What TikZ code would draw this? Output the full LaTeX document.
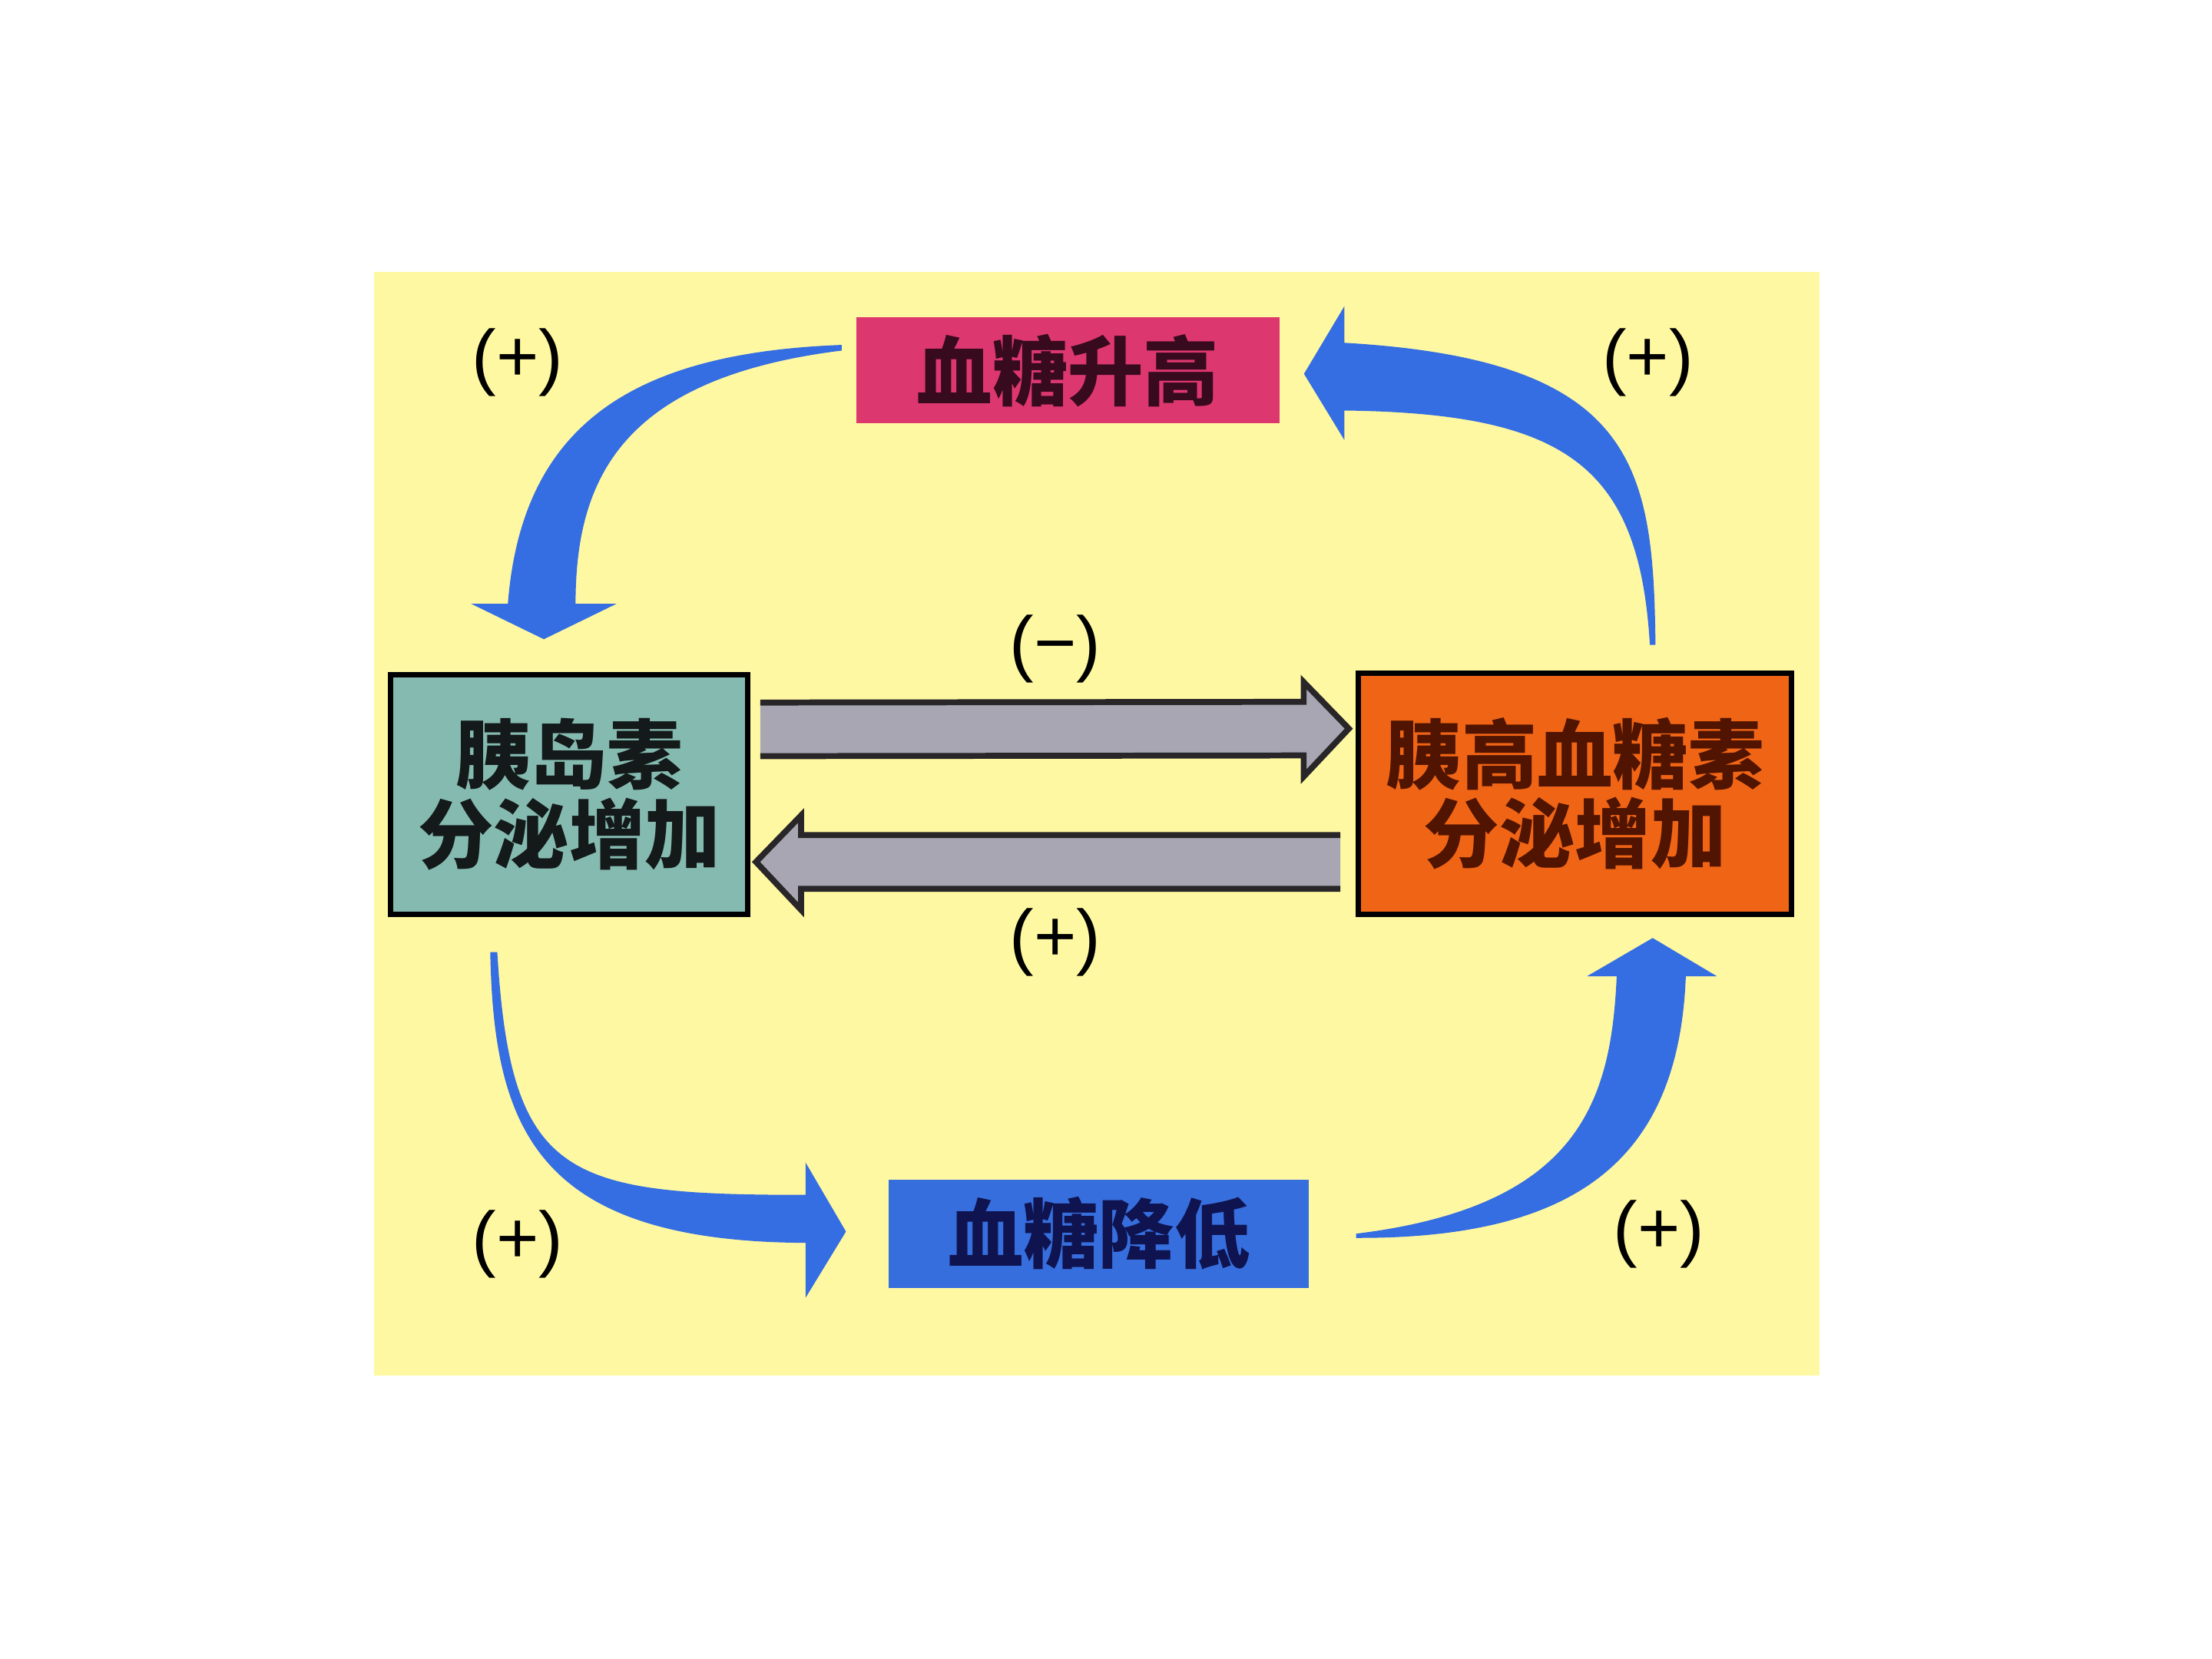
\documentclass[tikz,border=0pt]{standalone}
\usepackage{fontspec}
\setmainfont{Liberation Sans}
\newfontfamily\cjk{Noto Sans CJK SC}
\usetikzlibrary{calc}
\definecolor{bgyellow}{RGB}{255,248,162}
\definecolor{pinkbox}{RGB}{220,55,110}
\definecolor{tealbox}{RGB}{132,186,176}
\definecolor{orangebox}{RGB}{240,100,22}
\definecolor{bluebox}{RGB}{55,110,222}
\definecolor{bluearrow}{RGB}{52,110,226}
\definecolor{grayfill}{RGB}{168,166,178}
\definecolor{grayline}{RGB}{40,38,40}
\begin{document}
\begin{tikzpicture}[x=0.018367cm,y=-0.018367cm,
  box/.style={rectangle,inner sep=0pt,align=center,
    font=\cjk\bfseries\fontsize{28}{29.5}\selectfont},
  sign/.style={font=\fontsize{27}{30}\selectfont,inner sep=0pt},
  curvearrow/.style={fill=bluearrow,draw=none},
  grayarrow/.style={fill=grayfill,draw=none},
  grayedge/.style={draw=grayline,line width=2.2pt,line join=miter}]
\fill[white] (0,0) rectangle (1568,1176);
\useasboundingbox (0,0) rectangle (1568,1176);
\fill[bgyellow] (265,193) rectangle (1290,975);

% boxes
\node[box,fill=pinkbox,text={rgb,255:red,55;green,10;blue,30},minimum width=5.510cm,minimum height=1.378cm] (pink) at (757,262.5) {血糖升高};
\node[box,fill=tealbox,draw=black,line width=2pt,text={rgb,255:red,20;green,25;blue,25},minimum width=4.647cm,minimum height=3.122cm] (teal) at (403.5,563) {胰岛素\\分泌增加};
\node[box,fill=orangebox,draw=black,line width=2pt,text={rgb,255:red,80;green,20;blue,0},minimum width=5.639cm,minimum height=3.141cm] (orange) at (1116.5,562.5) {胰高血糖素\\分泌增加};
\node[box,fill=bluebox,text={rgb,255:red,15;green,20;blue,80},minimum width=5.473cm,minimum height=1.414cm] (blue) at (779,874.5) {血糖降低};

% signs
\node[sign] (s1) at (367,257) {(+)};
\node[sign] (s2) at (1168,257) {(+)};
\node[sign] (s3) at (748,460) {(−)};
\node[sign] (s4) at (748,668) {(+)};
\node[sign] (s5) at (367,882) {(+)};
\node[sign] (s6) at (1176,875) {(+)};

% gray arrow teal -> orange
\coordinate (gA) at ($(teal.east)+(7,-46)$);
\coordinate (gB) at ($(orange.west)+(-5,-46)$);
\fill[grayarrow] ($(gA)+(0,-19)$) -- ($(gB)+(-32,-19)$) -- ($(gB)+(-32,-33)$) -- (gB)
  -- ($(gB)+(-32,34)$) -- ($(gB)+(-32,19)$) -- ($(gA)+(0,19)$) -- cycle;
\draw[grayedge] ($(gA)+(0,-19)$) -- ($(gB)+(-32,-19)$) -- ($(gB)+(-32,-33)$) -- (gB)
  -- ($(gB)+(-32,34)$) -- ($(gB)+(-32,19)$) -- ($(gA)+(0,19)$);

% gray arrow orange -> teal
\coordinate (hA) at ($(orange.west)+(-11,48.5)$);
\coordinate (hB) at ($(teal.east)+(4,48)$);
\fill[grayarrow] ($(hA)+(0,-19)$) -- ($(hB)+(32,-19)$) -- ($(hB)+(32,-33)$) -- (hB)
  -- ($(hB)+(32,34)$) -- ($(hB)+(32,19)$) -- ($(hA)+(0,19)$) -- cycle;
\draw[grayedge] ($(hA)+(0,-19)$) -- ($(hB)+(32,-19)$) -- ($(hB)+(32,-33)$) -- (hB)
  -- ($(hB)+(32,34)$) -- ($(hB)+(32,19)$) -- ($(hA)+(0,19)$);

% curved arrow: pink -> teal (top left)
\coordinate (tlTail) at ($(pink.west)+(-10,-18)$);
\coordinate (tlTip) at ($(teal.north)+(-18,-23)$);
\fill[curvearrow] (tlTail) .. controls (450,250) and (370,300) .. (360,428)
  -- (334,428) -- (tlTip) -- (437,428) -- (408,428)
  .. controls (408,340) and (440,268) .. ($(tlTail)+(0,4)$) -- cycle;

% curved arrow: orange -> pink (top right)
\coordinate (trTail) at ($(orange.north)+(57,-18)$);
\coordinate (trTip) at ($(pink.east)+(17,2.5)$);
\fill[curvearrow] (trTail) .. controls (1172,330) and (1160,255) .. (953,243)
  -- (953,217) -- (trTip) -- (953,312) -- (953,291)
  .. controls (1110,293) and (1162,330) .. ($(trTail)+(-4,0)$) -- cycle;

% curved arrow: teal -> blue (bottom left)
\coordinate (blTail) at ($(teal.south)+(-56,25)$);
\coordinate (blTip) at ($(blue.west)+(-30,-1.5)$);
\fill[curvearrow] (blTail) .. controls (350,800) and (380,880) .. (571,881)
  -- (571,920) -- (blTip) -- (571,824) -- (571,847)
  .. controls (400,847) and (362,835) .. ($(blTail)+(5,0)$) -- cycle;

% curved arrow: blue -> orange (bottom right)
\coordinate (brTail) at ($(blue.east)+(33,0)$);
\coordinate (brTip) at ($(orange.south)+(55,15)$);
\fill[curvearrow] (brTail) .. controls (1120,855) and (1142,780) .. (1146,692)
  -- (1125,692) -- (brTip) -- (1217,692) -- (1195,692)
  .. controls (1190,820) and (1120,878) .. ($(brTail)+(0,3)$) -- cycle;
\end{tikzpicture}
\end{document}
